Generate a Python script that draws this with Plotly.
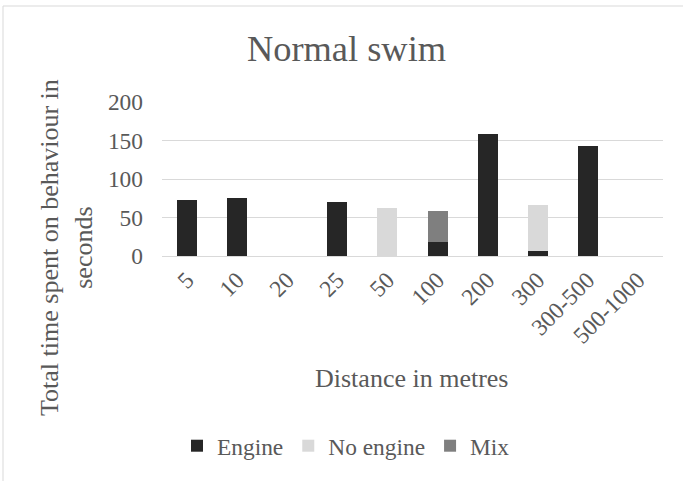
import plotly.graph_objects as go

categories = ['5', '10', '20', '25', '50', '100', '200', '300', '300-500', '500-1000']
engine = [73, 75, 0, 70, 0, 18, 158, 6, 143, 0]
no_engine = [0, 0, 0, 0, 62, 0, 0, 60, 0, 0]
mix = [0, 0, 0, 0, 0, 40, 0, 0, 0, 0]
y_ticks = [0, 50, 100, 150, 200]

FONT = "Liberation Serif"
TXT = "#595959"
GRID = "#d9d9d9"

W, H = 683, 481
L, R, T, B = 162, 20, 102, 225
pw, ph = W - L - R, H - T - B

def px(x):
    return (x - L) / pw

def py(y):
    return (H - B - y) / ph

fig = go.Figure()
for name, vals, col in [("Engine", engine, "#262626"),
                        ("No engine", no_engine, "#d9d9d9"),
                        ("Mix", mix, "#7f7f7f")]:
    fig.add_trace(go.Bar(x=categories, y=vals, name=name,
                         marker=dict(color=col, line=dict(width=0))))

fig.update_layout(
    width=W, height=H,
    margin=dict(l=L, r=R, t=T, b=B, autoexpand=False),
    barmode="stack", bargap=0.6,
    plot_bgcolor="white", paper_bgcolor="white",
    font=dict(family=FONT, color=TXT),
    title=dict(text="Normal swim", font=dict(size=36.4, color=TXT, family=FONT),
               x=346.5 / W, xanchor="center", xref="container",
               y=1 - 48 / H, yanchor="middle", yref="container"),
    xaxis=dict(type="category", tickangle=-45,
               tickfont=dict(size=23.4, color=TXT, family=FONT),
               showgrid=False, showline=True, linecolor=GRID, linewidth=1,
               ticks="", automargin=False),
    yaxis=dict(range=[0, 200], tickvals=y_ticks,
               tickfont=dict(size=23.4, color=TXT, family=FONT),
               showgrid=True, gridcolor=GRID, gridwidth=1, zeroline=False,
               showline=False, ticks="", ticklabelstandoff=18, automargin=False),
    showlegend=True,
    legend=dict(orientation="h", x=px(177), xanchor="left", y=py(446), yanchor="middle",
                font=dict(size=23.4, color=TXT, family=FONT), traceorder="normal",
                bgcolor="rgba(0,0,0,0)"),
)

fig.add_annotation(text="Distance in metres", xref="paper", yref="paper",
                   x=px(411.5), y=py(378), xanchor="center", yanchor="middle",
                   showarrow=False, font=dict(size=26, color=TXT, family=FONT))
fig.add_annotation(text="Total time spent on behaviour in<br>seconds", xref="paper", yref="paper",
                   x=px(66), y=py(248), xanchor="center", yanchor="middle", textangle=-90,
                   showarrow=False, font=dict(size=26, color=TXT, family=FONT))

fig.add_shape(type="rect", xref="paper", yref="paper",
              x0=px(3), x1=px(700), y0=py(500), y1=py(6),
              line=dict(color=GRID, width=1), fillcolor="rgba(0,0,0,0)", layer="below")

fig.write_html("out.html")
